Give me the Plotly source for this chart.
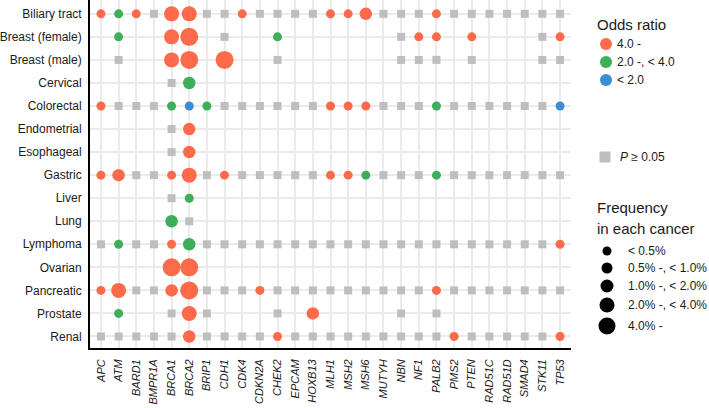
import plotly.graph_objects as go

# ---------------- data ----------------
genes = ["APC", "ATM", "BARD1", "BMPR1A", "BRCA1", "BRCA2", "BRIP1", "CDH1", "CDK4",
         "CDKN2A", "CHEK2", "EPCAM", "HOXB13", "MLH1", "MSH2", "MSH6", "MUTYH", "NBN",
         "NF1", "PALB2", "PMS2", "PTEN", "RAD51C", "RAD51D", "SMAD4", "STK11", "TP53"]
cancers = ["Biliary tract", "Breast (female)", "Breast (male)", "Cervical", "Colorectal",
           "Endometrial", "Esophageal", "Gastric", "Liver", "Lung", "Lymphoma", "Ovarian",
           "Pancreatic", "Prostate", "Renal"]

# significant genes per cancer, odds-ratio class (H: 4.0-, M: 2.0-<4.0, L: <2.0),
# frequency class (1: <0.5%, 2: 0.5-1%, 3: 1-2%, 4: 2-4%, 5: 4%-)
sig_genes = [
    ["APC", "ATM", "BARD1", "BRCA1", "BRCA2", "CDK4", "MLH1", "MSH2", "MSH6", "PALB2"],
    ["ATM", "BRCA1", "BRCA2", "CHEK2", "NF1", "PALB2", "PTEN", "TP53"],
    ["BRCA1", "BRCA2", "CDH1"],
    ["BRCA2"],
    ["APC", "BRCA1", "BRCA2", "BRIP1", "MLH1", "MSH2", "MSH6", "PALB2", "TP53"],
    ["BRCA2"],
    ["BRCA2"],
    ["APC", "ATM", "BRCA1", "BRCA2", "CDH1", "MLH1", "MSH2", "MSH6", "PALB2"],
    ["BRCA2"],
    ["BRCA1"],
    ["ATM", "BRCA1", "BRCA2", "TP53"],
    ["BRCA1", "BRCA2"],
    ["APC", "ATM", "BRCA1", "BRCA2", "CDKN2A", "PALB2"],
    ["ATM", "BRCA2", "HOXB13"],
    ["BRCA2", "CHEK2", "PMS2", "TP53"],
]
sig_or = [
    ["H", "M", "H", "H", "H", "H", "H", "H", "H", "H"],
    ["M", "H", "H", "M", "H", "H", "H", "H"],
    ["H", "H", "H"],
    ["M"],
    ["H", "M", "L", "M", "H", "H", "H", "M", "L"],
    ["H"],
    ["H"],
    ["H", "H", "H", "H", "H", "H", "H", "M", "M"],
    ["M"],
    ["M"],
    ["M", "H", "M", "H"],
    ["H", "H"],
    ["H", "H", "H", "H", "H", "H"],
    ["M", "H", "H"],
    ["H", "H", "H", "H"],
]
sig_freq = [
    [1, 1, 1, 4, 4, 1, 1, 1, 3, 1],
    [1, 4, 5, 1, 1, 1, 1, 1],
    [4, 5, 5],
    [3],
    [1, 1, 1, 1, 1, 1, 1, 1, 1],
    [3],
    [3],
    [1, 3, 1, 4, 1, 1, 1, 1, 1],
    [1],
    [3],
    [1, 1, 3, 1],
    [5, 5],
    [1, 4, 3, 5, 1, 1],
    [1, 4, 3],
    [3, 1, 1, 1],
]
# genes with P >= 0.05 per cancer
ns_genes = [
    ["BMPR1A", "BRIP1", "CDH1", "CDKN2A", "CHEK2", "EPCAM", "HOXB13", "MUTYH", "NBN", "NF1",
     "PMS2", "PTEN", "RAD51C", "RAD51D", "SMAD4", "STK11", "TP53"],
    ["CDH1", "NBN", "STK11"],
    ["ATM", "CHEK2", "NBN", "NF1", "PALB2", "PTEN", "STK11", "TP53"],
    ["BRCA1"],
    ["ATM", "BARD1", "BMPR1A", "CDH1", "CDK4", "CDKN2A", "CHEK2", "EPCAM", "HOXB13", "MUTYH",
     "NBN", "NF1", "PMS2", "PTEN", "RAD51C", "RAD51D", "SMAD4", "STK11"],
    ["BRCA1"],
    ["BRCA1"],
    ["BARD1", "BMPR1A", "BRIP1", "CDK4", "CDKN2A", "CHEK2", "EPCAM", "HOXB13", "MUTYH", "NBN",
     "NF1", "PMS2", "PTEN", "RAD51C", "RAD51D", "SMAD4", "STK11", "TP53"],
    ["BRCA1"],
    ["BRCA2"],
    ["APC", "BARD1", "BMPR1A", "BRIP1", "CDH1", "CDK4", "CDKN2A", "CHEK2", "EPCAM", "HOXB13",
     "MLH1", "MSH2", "MSH6", "MUTYH", "NBN", "NF1", "PALB2", "PMS2", "PTEN", "RAD51C", "RAD51D",
     "SMAD4", "STK11"],
    [],
    ["BARD1", "BMPR1A", "BRIP1", "CDH1", "CDK4", "CHEK2", "EPCAM", "HOXB13", "MLH1", "MSH2",
     "MSH6", "MUTYH", "NBN", "NF1", "PMS2", "PTEN", "RAD51C", "RAD51D", "SMAD4", "STK11", "TP53"],
    ["BRCA1", "BRIP1", "CHEK2", "NBN", "PALB2"],
    ["APC", "ATM", "BARD1", "BMPR1A", "BRCA1", "BRIP1", "CDH1", "CDK4", "CDKN2A", "EPCAM",
     "HOXB13", "MLH1", "MSH2", "MSH6", "MUTYH", "NBN", "NF1", "PALB2", "PTEN", "RAD51C",
     "RAD51D", "SMAD4", "STK11"],
]

or_labels = {"H": "4.0 -", "M": "2.0 -, < 4.0", "L": "< 2.0"}
freq_labels = ["< 0.5%", "0.5% -, < 1.0%", "1.0% -, < 2.0%", "2.0% -, < 4.0%", "4.0% -"]

# ---------------- style ----------------
OR_COLORS = {"H": "#FF6A4A", "M": "#3DAE5A", "L": "#3B8ED3"}
GREY = "#BEBEBE"
FREQ_SIZE = {1: 9, 2: 11, 3: 12.5, 4: 15, 5: 18}
LEG_SIZE = {1: 9, 2: 11, 3: 13, 4: 15, 5: 17}
FONT = "Liberation Sans, Arial, sans-serif"
TXT = "#1a1a1a"

W, H = 709, 408
L, R, T, B = 90, 138, 0, 60
PW, PH = W - L - R, H - T - B

fig = go.Figure()

# non-significant squares
nx, ny = [], []
for c, gl in zip(cancers, ns_genes):
    for g in gl:
        nx.append(g)
        ny.append(c)
fig.add_trace(go.Scatter(x=nx, y=ny, mode="markers",
                         marker=dict(symbol="square", size=8, color=GREY, line=dict(width=0)),
                         showlegend=False, hoverinfo="x+y", cliponaxis=False))

# significant circles
for cls in ["H", "M", "L"]:
    xs, ys, ss = [], [], []
    for c, gl, ol, fl in zip(cancers, sig_genes, sig_or, sig_freq):
        for g, o, f in zip(gl, ol, fl):
            if o == cls:
                xs.append(g)
                ys.append(c)
                ss.append(FREQ_SIZE[f])
    fig.add_trace(go.Scatter(x=xs, y=ys, mode="markers", name=or_labels[cls],
                             marker=dict(symbol="circle", size=ss, color=OR_COLORS[cls],
                                         line=dict(width=0), opacity=1),
                             showlegend=False, hoverinfo="x+y", cliponaxis=False))

# ---------------- manual legend (pixel positions -> paper) ----------------
def px(xp):
    return (xp - L) / PW

def py(yp):
    return 1 - (yp - T) / PH

shapes, annots = [], []

def circle(xc, yc, d, color):
    shapes.append(dict(type="circle", xref="paper", yref="paper", xsizemode="pixel",
                       ysizemode="pixel", xanchor=px(xc), yanchor=py(yc),
                       x0=-d / 2, x1=d / 2, y0=-d / 2, y1=d / 2,
                       fillcolor=color, line=dict(width=0)))

def square(xc, yc, d, color):
    shapes.append(dict(type="rect", xref="paper", yref="paper", xsizemode="pixel",
                       ysizemode="pixel", xanchor=px(xc), yanchor=py(yc),
                       x0=-d / 2, x1=d / 2, y0=-d / 2, y1=d / 2,
                       fillcolor=color, line=dict(width=0)))

def text(xl, yc, s, size):
    annots.append(dict(x=px(xl), y=py(yc), xref="paper", yref="paper", text=s,
                       showarrow=False, xanchor="left", yanchor="middle", borderpad=0,
                       font=dict(family=FONT, size=size, color=TXT)))

text(596, 24, "Odds ratio", 15)
for i, cls in enumerate(["H", "M", "L"]):
    yc = 44 + 18 * i
    circle(606, yc, 12, OR_COLORS[cls])
    text(616, yc, or_labels[cls], 12)

square(605, 157, 11, GREY)
text(619, 157, "<i>P</i> ≥ 0.05", 12)

text(596, 207, "Frequency", 15)
text(596, 228, "in each cancer", 15)
freq_y = [251, 268, 286, 305, 326]
for i, lab in enumerate(freq_labels):
    circle(607, freq_y[i], LEG_SIZE[i + 1], "#000000")
    text(627, freq_y[i], lab, 12)

fig.update_layout(
    width=W, height=H,
    margin=dict(l=L, r=R, t=T, b=B, pad=0),
    paper_bgcolor="white", plot_bgcolor="white",
    font=dict(family=FONT, size=12, color=TXT),
    shapes=shapes, annotations=annots,
    showlegend=False,
    xaxis=dict(type="category", categoryorder="array", categoryarray=genes,
               range=[-0.62, 26.62], showgrid=True, gridcolor="#EBEBEB", gridwidth=1.5,
               zeroline=False, showline=True, linecolor="#000000", linewidth=1.8,
               ticks="", tickangle=-90, ticklabelstandoff=5, automargin=False,
               tickfont=dict(family=FONT, size=11, color=TXT, style="italic")),
    yaxis=dict(type="category", categoryorder="array", categoryarray=cancers,
               range=[14.5, -0.6], showgrid=True, gridcolor="#EBEBEB", gridwidth=1.5,
               zeroline=False, showline=True, linecolor="#000000", linewidth=1.8,
               ticks="", ticklabelstandoff=4, automargin=False,
               tickfont=dict(family=FONT, size=12, color=TXT)),
)

# remove the browser's default 8px page margin so the figure sits at the window origin
fig.write_html("out.html", config={"displayModeBar": False},
               post_script="document.body.style.margin='0';document.body.style.padding='0';")
